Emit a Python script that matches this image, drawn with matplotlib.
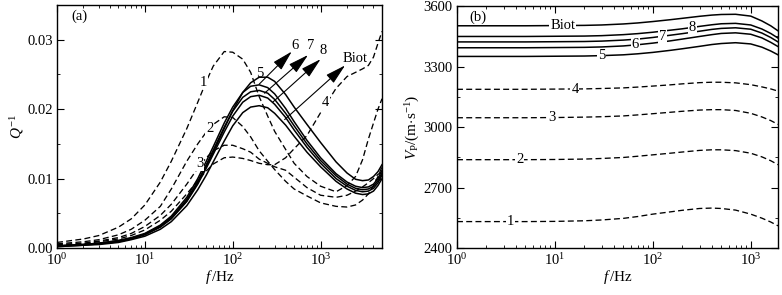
import numpy as np
import matplotlib
matplotlib.use("Agg")
import matplotlib.pyplot as plt
from matplotlib.ticker import MultipleLocator, LogLocator, NullFormatter

plt.rcParams['font.family'] = ['Liberation Serif', 'DejaVu Serif']
plt.rcParams['mathtext.fontset'] = 'custom'
plt.rcParams['mathtext.rm'] = 'Liberation Serif'
plt.rcParams['mathtext.it'] = 'Liberation Serif:italic'
plt.rcParams['font.size'] = 10.5

# ---- panel (a): attenuation Q^-1 vs frequency ----
freq_a = [1, 2, 3, 5, 7, 10, 15, 20, 30, 40, 50, 60, 80, 100, 130, 160, 200, 250,
          300, 400, 500, 700, 1000, 1500, 2000, 2500, 3000, 3500, 4000, 4500, 5000]

q1 = [0.0008, 0.0013, 0.0018, 0.0030, 0.0042, 0.0062, 0.0095, 0.0125, 0.0172, 0.0210,
      0.0240, 0.0262, 0.0283, 0.0282, 0.0272, 0.0253, 0.0218, 0.0190, 0.0168, 0.0142,
      0.0122, 0.0103, 0.0089, 0.0081, 0.0090, 0.0103, 0.0127, 0.0157, 0.0180, 0.0200, 0.0215]
q2 = [0.0006, 0.0009, 0.0012, 0.0019, 0.0027, 0.0040, 0.0060, 0.0085, 0.0125, 0.0150,
      0.0167, 0.0178, 0.0189, 0.0188, 0.0175, 0.0160, 0.0140, 0.0125, 0.0113, 0.0096,
      0.0085, 0.0075, 0.0065, 0.0060, 0.0059, 0.0062, 0.0069, 0.0078, 0.0090, 0.0103, 0.0117]
q3 = [0.0005, 0.0007, 0.0010, 0.0015, 0.0021, 0.0031, 0.0047, 0.0063, 0.0092, 0.0115,
      0.0130, 0.0140, 0.0148, 0.0148, 0.0143, 0.0138, 0.0128, 0.0122, 0.0117, 0.0112,
      0.0102, 0.0087, 0.0076, 0.0073, 0.0076, 0.0082, 0.0088, 0.0094, 0.0100, 0.0106, 0.0110]
q4 = [0.0004, 0.0006, 0.0009, 0.0013, 0.0018, 0.0026, 0.0040, 0.0053, 0.0078, 0.0097,
      0.0111, 0.0121, 0.0130, 0.0131, 0.0129, 0.0126, 0.0122, 0.0120, 0.0120, 0.0130,
      0.0143, 0.0162, 0.0195, 0.0230, 0.0247, 0.0253, 0.0258, 0.0263, 0.0275, 0.0295, 0.0312]
q5 = [0.0003, 0.0005, 0.0007, 0.0010, 0.0014, 0.0020, 0.0031, 0.0043, 0.0068, 0.0094,
      0.0118, 0.0138, 0.0172, 0.0198, 0.0224, 0.0238, 0.0246, 0.0246, 0.0240, 0.0221,
      0.0203, 0.0178, 0.0152, 0.0124, 0.0108, 0.0099, 0.0097, 0.0098, 0.0103, 0.0110, 0.0120]
q6 = [0.0003, 0.0005, 0.0007, 0.0011, 0.0015, 0.0021, 0.0033, 0.0046, 0.0073, 0.0100,
      0.0125, 0.0146, 0.0180, 0.0203, 0.0224, 0.0233, 0.0235, 0.0231, 0.0222, 0.0201,
      0.0182, 0.0155, 0.0130, 0.0107, 0.0095, 0.0089, 0.0087, 0.0088, 0.0092, 0.0100, 0.0112]
q7 = [0.0003, 0.0005, 0.0006, 0.0010, 0.0014, 0.0020, 0.0032, 0.0044, 0.0070, 0.0096,
      0.0120, 0.0141, 0.0174, 0.0197, 0.0217, 0.0225, 0.0227, 0.0223, 0.0214, 0.0194,
      0.0176, 0.0150, 0.0126, 0.0104, 0.0092, 0.0086, 0.0084, 0.0085, 0.0089, 0.0097, 0.0108]
q8 = [0.0002, 0.0004, 0.0006, 0.0009, 0.0013, 0.0019, 0.0030, 0.0042, 0.0067, 0.0092,
      0.0115, 0.0135, 0.0167, 0.0190, 0.0210, 0.0218, 0.0220, 0.0216, 0.0207, 0.0188,
      0.0170, 0.0145, 0.0122, 0.0100, 0.0089, 0.0083, 0.0081, 0.0082, 0.0086, 0.0094, 0.0105]
q_biot = [0.0002, 0.0004, 0.0005, 0.0008, 0.0012, 0.0017, 0.0027, 0.0038, 0.0061, 0.0084,
          0.0105, 0.0124, 0.0154, 0.0176, 0.0195, 0.0203, 0.0205, 0.0202, 0.0194, 0.0177,
          0.0161, 0.0138, 0.0117, 0.0096, 0.0085, 0.0079, 0.0077, 0.0078, 0.0082, 0.0090, 0.0100]

# ---- panel (b): P-wave velocity vs frequency ----
freq_b = [1, 2, 5, 10, 20, 30, 50, 70, 100, 150, 200, 300, 400, 500, 700,
          1000, 1300, 1600, 1900]

v1 = [2531, 2531, 2531, 2532, 2535, 2539, 2547, 2556, 2568, 2579, 2587, 2596, 2598,
      2596, 2588, 2568, 2548, 2529, 2510]
v2 = [2838, 2838, 2838, 2839, 2841, 2844, 2849, 2855, 2862, 2870, 2876, 2884, 2887,
      2887, 2883, 2870, 2852, 2833, 2813]
v3 = [3046, 3046, 3046, 3047, 3049, 3051, 3055, 3060, 3066, 3073, 3078, 3084, 3086,
      3086, 3082, 3068, 3050, 3032, 3013]
v4 = [3187, 3187, 3187, 3188, 3189, 3191, 3194, 3198, 3203, 3209, 3214, 3220, 3222,
      3222, 3219, 3210, 3199, 3189, 3178]
v5 = [3350, 3350, 3350, 3351, 3352, 3354, 3358, 3363, 3370, 3380, 3388, 3400, 3409,
      3414, 3418, 3412, 3396, 3377, 3358]
v6 = [3393, 3393, 3393, 3394, 3395, 3397, 3402, 3408, 3416, 3427, 3436, 3449, 3458,
      3464, 3467, 3460, 3442, 3420, 3399]
v7 = [3422, 3422, 3422, 3423, 3424, 3426, 3431, 3436, 3444, 3455, 3463, 3475, 3484,
      3489, 3492, 3485, 3466, 3444, 3422]
v8 = [3449, 3449, 3449, 3450, 3451, 3453, 3458, 3463, 3470, 3480, 3487, 3499, 3507,
      3512, 3514, 3506, 3486, 3464, 3441]
v_biot = [3502, 3502, 3502, 3503, 3504, 3506, 3511, 3516, 3523, 3532, 3539, 3549, 3555,
          3558, 3559, 3550, 3526, 3502, 3477]

DASH = (0, (4.5, 2.5))


def style_axes(ax):
    ax.set_xscale('log')
    ax.tick_params(which='both', direction='in', top=True, right=True)
    ax.tick_params(which='major', length=5, width=0.8, labelsize=10.5, pad=3)
    ax.tick_params(which='minor', length=2.5, width=0.6)
    ax.xaxis.set_minor_locator(LogLocator(base=10, subs=np.arange(2, 10), numticks=20))
    ax.xaxis.set_minor_formatter(NullFormatter())
    for sp in ax.spines.values():
        sp.set_linewidth(1.0)
    ax.set_xlabel(r'$f\,$/Hz', fontsize=11, labelpad=0)


def label(ax, x, y, s):
    ax.text(x, y, s, fontsize=10.5, ha='center', va='center', zorder=5,
            bbox=dict(facecolor='white', edgecolor='none', pad=0.6))


def main():
    fig = plt.figure(figsize=(7.82, 2.95), dpi=100)

    # panel (a)
    ax = fig.add_axes([0.0729, 0.1593, 0.4156, 0.8237])
    style_axes(ax)
    for q in [q1, q2, q3, q4]:
        ax.plot(freq_a, q, color='black', lw=0.95, linestyle=DASH)
    for q in [q5, q6, q7, q8, q_biot]:
        ax.plot(freq_a, q, color='black', lw=1.1)
    ax.set_xlim(1, 5000)
    ax.set_ylim(0, 0.035)
    ax.yaxis.set_major_locator(MultipleLocator(0.01))
    ax.yaxis.set_minor_locator(MultipleLocator(0.005))
    ax.yaxis.set_major_formatter(plt.FuncFormatter(lambda v, p: '%.2f' % v))
    ax.set_ylabel(r'$Q^{-1}$', fontsize=11, labelpad=1)
    ax.text(0.045, 0.955, '(a)', transform=ax.transAxes, fontsize=10.5, va='center')

    label(ax, 46, 0.0239, '1')
    label(ax, 55, 0.0172, '2')
    label(ax, 42, 0.0122, '3')
    label(ax, 1130, 0.0210, '4')
    ax.text(205, 0.0252, '5', fontsize=10.5, ha='center', va='center', zorder=5)

    arrows = [('6', (200, 0.0236), (470, 0.0283), (510, 0.0291)),
              ('7', (230, 0.0223), (720, 0.0278), (770, 0.0291)),
              ('8', (285, 0.0210), (1000, 0.0272), (1060, 0.0285)),
              ('Biot', (390, 0.0185), (1900, 0.0263), (2500, 0.0273))]
    for name, tail, head, txt in arrows:
        ax.annotate('', xy=head, xytext=tail,
                    arrowprops=dict(arrowstyle='-|>,head_length=1.2,head_width=0.32',
                                    color='black', lw=0.8, shrinkA=0, shrinkB=0))
        ax.text(txt[0], txt[1], name, fontsize=10.5, ha='center', va='center')

    # panel (b)
    bx = fig.add_axes([0.5844, 0.1593, 0.4105, 0.8203])
    style_axes(bx)
    for v in [v1, v2, v3, v4]:
        bx.plot(freq_b, v, color='black', lw=0.95, linestyle=DASH)
    for v in [v5, v6, v7, v8, v_biot]:
        bx.plot(freq_b, v, color='black', lw=1.1)
    bx.set_xlim(1, 1900)
    bx.set_ylim(2400, 3600)
    bx.yaxis.set_major_locator(MultipleLocator(300))
    bx.yaxis.set_minor_locator(MultipleLocator(150))
    bx.set_ylabel(r'$V_{\rm P}$/(m$\cdot$s$^{-1}$)', fontsize=11, labelpad=1)
    bx.text(0.04, 0.955, '(b)', transform=bx.transAxes, fontsize=10.5, va='center')

    label(bx, 3.5, 2531, '1')
    label(bx, 4.4, 2838, '2')
    label(bx, 9.4, 3046, '3')
    label(bx, 16, 3188, '4')
    label(bx, 30, 3354, '5')
    label(bx, 66, 3407, '6')
    label(bx, 125, 3450, '7')
    label(bx, 255, 3495, '8')
    label(bx, 12, 3503, 'Biot')

    fig.savefig('out.png', dpi=100)


if __name__ == '__main__':
    main()
